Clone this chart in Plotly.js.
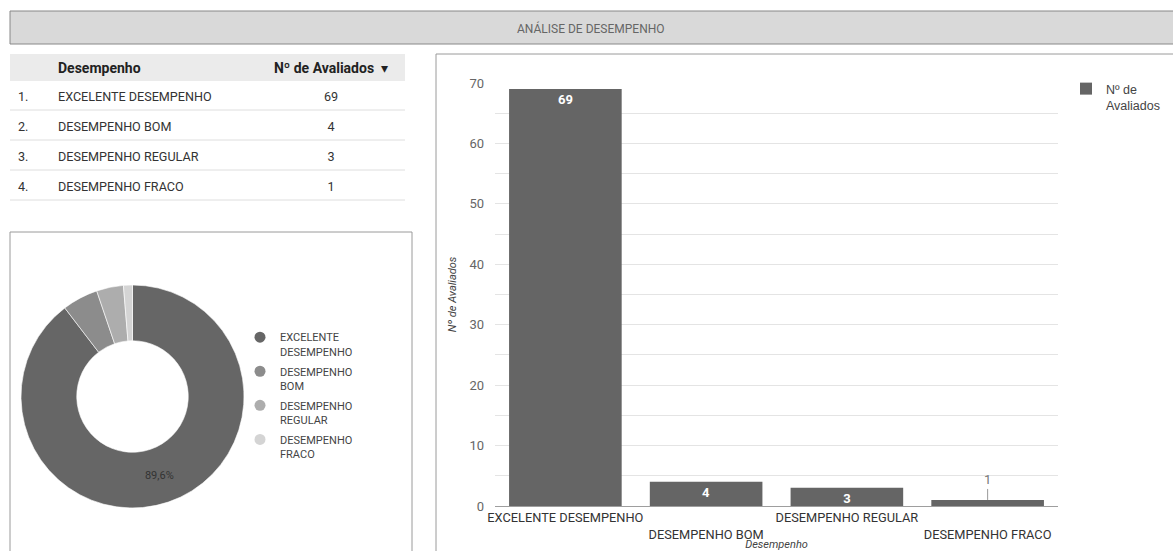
<!DOCTYPE html>
<html>
<head>
<meta charset="utf-8">
<script src="https://cdn.plot.ly/plotly-3.0.1.min.js"></script>
<style>html,body{margin:0;padding:0;background:#fff;}#chart{width:1173px;height:551px;}</style>
</head>
<body>
<div id="chart"></div>
<script>
// ---- data ----
const categories = ["EXCELENTE DESEMPENHO", "DESEMPENHO BOM", "DESEMPENHO REGULAR", "DESEMPENHO FRACO"];
const legendLabels = ["EXCELENTE<br>DESEMPENHO", "DESEMPENHO<br>BOM", "DESEMPENHO<br>REGULAR", "DESEMPENHO<br>FRACO"];
const avaliados = [69, 4, 3, 1];
const rankLabels = ["1.", "2.", "3.", "4."];
const tableHeader = ["", "<b>Desempenho</b>", "<b>Nº de Avaliados</b>  ▾"];
const seriesName = "Nº de<br>Avaliados";
const pageTitle = "ANÁLISE DE DESEMPENHO";
const yTitle = "Nº de Avaliados";
const xTitle = "Desempenho";
const pieColors = ["#666666", "#8c8c8c", "#adadad", "#d4d4d4"];

// ---- helpers (pixel -> paper) ----
const W = 1173, H = 551;
const px = v => v / W;
const py = v => 1 - v / H;

const total = avaliados.reduce((a, b) => a + b, 0);

const traces = [];

// table
traces.push({
  type: "table",
  domain: { x: [px(10), px(405)], y: [py(200), py(52)] },
  columnwidth: [40, 207, 148],
  header: {
    values: tableHeader,
    height: 26,
    align: ["left", "left", "center"],
    fill: { color: "rgba(0,0,0,0)" },
    line: { width: 0, color: "rgba(0,0,0,0)" },
    font: { family: "Roboto", size: 14, color: "#222" }
  },
  cells: {
    values: [rankLabels, categories, avaliados.map(String)],
    height: 30,
    align: ["left", "left", "center"],
    fill: { color: "rgba(0,0,0,0)" },
    line: { width: 0, color: "rgba(0,0,0,0)" },
    font: { family: "Roboto", size: 12.6, color: "#333" }
  }
});

// donut
traces.push({
  type: "pie",
  labels: categories,
  values: avaliados,
  hole: 0.5,
  sort: false,
  direction: "clockwise",
  rotation: 0,
  domain: { x: [px(21), px(244)], y: [py(508), py(285)] },
  marker: { colors: pieColors, line: { color: "#ffffff", width: 0.6 } },
  texttemplate: avaliados.map(v => (v / total > 0.1 ? "%{percent:.1%}" : "")),
  textposition: "inside",
  insidetextorientation: "horizontal",
  textfont: { family: "Roboto", size: 11, color: "#333" },
  showlegend: false,
  hoverinfo: "none"
});

// donut legend entries (circle markers)
categories.forEach((c, i) => {
  traces.push({
    type: "scatter",
    mode: "markers",
    x: [null], y: [null],
    name: legendLabels[i],
    legend: "legend2",
    legendgroup: "pie" + i,
    marker: { color: pieColors[i], size: 11, symbol: "circle" },
    showlegend: true,
    hoverinfo: "none"
  });
});

// bars
traces.push({
  type: "bar",
  x: categories,
  y: avaliados,
  name: seriesName,
  marker: { color: "#656565" },
  text: avaliados.map(String),
  textposition: avaliados.map(v => (v >= 2 ? "inside" : "none")),
  insidetextanchor: "end",
  textangle: 0,
  constraintext: "none",
  insidetextfont: { family: "Roboto", size: 13, color: "#ffffff", weight: "bold" },
  hoverinfo: "none",
  legend: "legend"
});

const smallAnnotations = [];
avaliados.forEach((v, i) => {
  if (v < 2) {
    smallAnnotations.push({
      x: categories[i], y: v, xref: "x", yref: "y",
      text: String(v), showarrow: true, arrowhead: 0, arrowwidth: 1,
      arrowcolor: "#9a9a9a", ax: 0, ay: -20, standoff: 0,
      font: { family: "Roboto", size: 13, color: "#777" }
    });
  }
});

const tickText = categories.map((c, i) => (i % 2 === 1 ? "<br>" + c : c));

const shapes = [
  // title bar
  { type: "rect", xref: "paper", yref: "paper", x0: px(10), x1: px(1180), y0: py(44), y1: py(11),
    fillcolor: "#d9d9d9", line: { color: "#888888", width: 1 }, layer: "below" },
  // table header band
  { type: "rect", xref: "paper", yref: "paper", x0: px(10), x1: px(405), y0: py(81), y1: py(54),
    fillcolor: "#ebebeb", line: { width: 0 }, layer: "below" },
  // donut box
  { type: "rect", xref: "paper", yref: "paper", x0: px(10), x1: px(412), y0: py(565), y1: py(232),
    fillcolor: "rgba(0,0,0,0)", line: { color: "#9a9a9a", width: 1 }, layer: "below" },
  // bar box
  { type: "rect", xref: "paper", yref: "paper", x0: px(436), x1: px(1185), y0: py(565), y1: py(54),
    fillcolor: "rgba(0,0,0,0)", line: { color: "#9a9a9a", width: 1 }, layer: "below" }
];
[110, 140, 170, 200].forEach(y => {
  shapes.push({ type: "line", xref: "paper", yref: "paper", x0: px(10), x1: px(405), y0: py(y), y1: py(y),
    line: { color: "#dedede", width: 1 } });
});

const layout = {
  width: W, height: H,
  margin: { l: 0, r: 0, t: 0, b: 0 },
  paper_bgcolor: "#ffffff",
  plot_bgcolor: "rgba(0,0,0,0)",
  separators: ",.",
  font: { family: "Roboto", color: "#444" },
  bargap: 0.2,
  xaxis: {
    type: "category",
    domain: [px(495), px(1058)],
    tickmode: "array",
    tickvals: categories,
    ticktext: tickText,
    tickfont: { family: "Roboto", size: 12.8, color: "#333" },
    showline: true, linecolor: "#9e9e9e", linewidth: 1,
    ticks: "",
    showgrid: false,
    fixedrange: true,
    title: { text: xTitle, standoff: 5, font: { family: "Roboto", size: 11, color: "#444", style: "italic" } }
  },
  yaxis: {
    domain: [py(506), py(83)],
    range: [0, 70],
    dtick: 10, tick0: 0,
    showgrid: true, gridcolor: "#e4e4e4", gridwidth: 1,
    minor: { dtick: 5, showgrid: true, gridcolor: "#e4e4e4", gridwidth: 1 },
    zeroline: false,
    ticks: "",
    ticklabelstandoff: 10,
    tickfont: { family: "Roboto", size: 13, color: "#666" },
    fixedrange: true,
    title: { text: yTitle, standoff: 10, font: { family: "Roboto", size: 11, color: "#444", style: "italic" } }
  },
  legend: {
    x: px(1066), y: py(74), xanchor: "left", yanchor: "top",
    font: { family: "Liberation Sans", size: 12.5, color: "#444" },
    bgcolor: "rgba(0,0,0,0)", valign: "top"
  },
  legend2: {
    x: px(240), y: py(323.5), xanchor: "left", yanchor: "top",
    font: { family: "Roboto", size: 11, color: "#444" },
    bgcolor: "rgba(0,0,0,0)", valign: "top", tracegroupgap: 2.5
  },
  shapes: shapes,
  annotations: [
    { text: pageTitle, xref: "paper", yref: "paper", x: px(591), y: py(28),
      xanchor: "center", yanchor: "middle", showarrow: false,
      font: { family: "Roboto", size: 12, color: "#666" } }
  ].concat(smallAnnotations)
};

Plotly.newPlot("chart", traces, layout, { displayModeBar: false, staticPlot: true });
</script>
</body>
</html>
